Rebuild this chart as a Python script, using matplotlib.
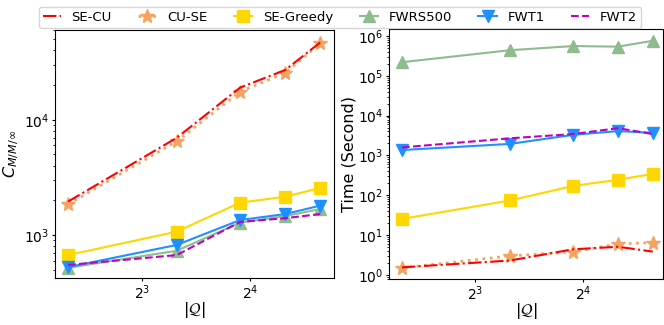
import matplotlib
matplotlib.use("Agg")
import matplotlib.pyplot as plt

# number of queries |Q|
q = [5, 10, 15, 20, 25]

# cost C_{M/M/inf}
cost = {
    "SE-CU":     [1950, 6960, 19000, 27000, 46800],
    "CU-SE":     [1850, 6500, 17500, 25500, 46000],
    "SE-Greedy": [670, 1070, 1910, 2150, 2560],
    "FWRS500":   [520, 730, 1280, 1460, 1680],
    "FWT1":      [527, 820, 1350, 1520, 1800],
    "FWT2":      [550, 670, 1300, 1400, 1520],
}

# running time (seconds)
runtime = {
    "SE-CU":     [1.55, 2.3, 4.4, 5.1, 3.85],
    "CU-SE":     [1.5, 3.0, 3.8, 6.0, 6.5],
    "SE-Greedy": [25.5, 74, 172, 245, 345],
    "FWRS500":   [2.2e5, 4.4e5, 5.6e5, 5.4e5, 7.6e5],
    "FWT1":      [1370, 1950, 3300, 4100, 3700],
    "FWT2":      [1590, 2700, 3450, 4850, 3450],
}

styles = {
    "SE-CU":     dict(color="red", ls="-.", marker=None, lw=1.5),
    "CU-SE":     dict(color="#f4a460", ls=":", marker="*", ms=10, lw=2),
    "SE-Greedy": dict(color="gold", ls="-", marker="s", ms=8, lw=1.5),
    "FWRS500":   dict(color="darkseagreen", ls="-", marker="^", ms=8, lw=1.5),
    "FWT1":      dict(color="dodgerblue", ls="-", marker="v", ms=8, lw=1.5),
    "FWT2":      dict(color="m", ls="--", marker=None, lw=1.5),
}

fig = plt.figure(figsize=(6.64, 3.25), dpi=100)
ax1 = fig.add_axes([55 / 664, 1 - 278 / 325, 279 / 664, 248 / 325])
ax2 = fig.add_axes([389 / 664, 1 - 279 / 325, 274 / 664, 250 / 325])

order = ["SE-CU", "CU-SE", "SE-Greedy", "FWRS500", "FWT1", "FWT2"]
draw_order = ["FWRS500", "SE-Greedy", "FWT1", "FWT2", "CU-SE", "SE-CU"]

handles = {}
for name in draw_order:
    st = styles[name]
    h, = ax1.plot(q, cost[name], label=name, **st)
    ax2.plot(q, runtime[name], label=name, **st)
    handles[name] = h

for ax in (ax1, ax2):
    ax.set_xscale("log", base=2)
    ax.set_yscale("log")
    ax.set_xlabel(r"$|\mathcal{Q}|$", fontsize=11.5)
    ax.xaxis.set_label_coords(0.5, -0.087)
    ax.tick_params(labelsize=10, which="major", length=2, pad=2)
    ax.tick_params(which="minor", length=1.5)
    ax.set_xticks([8, 16])

ax1.set_xlim(4.6, 27.3)
ax2.set_xlim(4.6, 26.7)

ax1.set_ylim(424, 60000)
ax1.set_ylabel(r"$C_{M/M/\infty}$", fontsize=11.5)
ax1.yaxis.set_label_coords(-0.122, 0.5)
ax2.set_ylim(0.79, 1.5e6)
ax2.set_ylabel("Time (Second)", fontsize=11.5)
ax2.yaxis.set_label_coords(-0.12, 0.5)

fig.legend([handles[n] for n in order], order, loc="upper left",
           bbox_to_anchor=(32 / 664, 1.0), ncol=6, fontsize=9.5,
           handlelength=1.4, columnspacing=2.0, borderpad=0.3,
           handletextpad=0.8, frameon=True)

fig.savefig("out.png", dpi=100)
